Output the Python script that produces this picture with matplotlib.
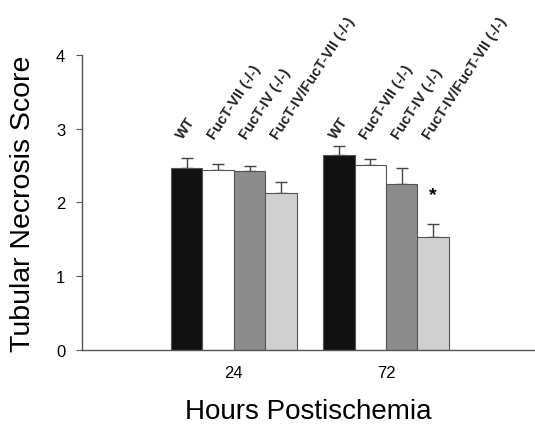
import numpy as np
import matplotlib.pyplot as plt

plt.rcParams['font.family'] = ['Liberation Sans', 'DejaVu Sans']

hours = ['24', '72']
genotypes = ['WT', 'FucT-VII (-/-)', 'FucT-IV (-/-)', 'FucT-IV/FucT-VII (-/-)']
scores = [[2.47, 2.65],   # WT
          [2.44, 2.51],   # FucT-VII
          [2.42, 2.25],   # FucT-IV
          [2.13, 1.53]]   # FucT-IV/FucT-VII
errors = [[0.13, 0.11],
          [0.08, 0.08],
          [0.08, 0.22],
          [0.15, 0.18]]
colors = ['#111111', '#ffffff', '#8c8c8c', '#d0d0d0']

fig = plt.figure(figsize=(5.35, 4.31), dpi=100)
ax = fig.add_axes([0.153, 0.186, 0.847, 0.684])

x = np.arange(len(hours))
w = 0.207
for i in range(len(genotypes)):
    pos = x + (i - 1.5) * w
    ax.bar(pos, scores[i], width=w, color=colors[i], edgecolor='#555555', linewidth=0.8, zorder=2)
    ax.errorbar(pos, scores[i], yerr=[np.zeros(len(hours)), errors[i]], fmt='none',
                ecolor='#444444', elinewidth=1, capsize=4, capthick=1, zorder=1)
    for p in pos:
        ax.text(p - 0.005, 2.84, genotypes[i], rotation=57, rotation_mode='anchor',
                ha='left', va='bottom', fontsize=10.5, fontweight='bold', color='#222222')

# significance marker
ax.text(x[1] + 1.5 * w, 2.1, '*', ha='center', va='center', fontsize=14, fontweight='bold')

ax.set_xlim(-1.0, 1.98)
ax.set_ylim(0, 4)
ax.set_yticks([0, 1, 2, 3, 4])
ax.set_xticks(x)
ax.set_xticklabels(hours)
ax.tick_params(axis='x', length=0, pad=11, labelsize=12)
ax.tick_params(axis='y', length=4, width=0.8, color='#555555', labelsize=12, pad=8)
for s in ['top', 'right']:
    ax.spines[s].set_visible(False)
for s in ['left', 'bottom']:
    ax.spines[s].set_color('#555555')
    ax.spines[s].set_linewidth(1)

ax.set_ylabel('Tubular Necrosis Score', fontsize=20.5, labelpad=14)
ax.set_xlabel('Hours Postischemia', fontsize=20, labelpad=13)

fig.savefig('out.png', dpi=100)
